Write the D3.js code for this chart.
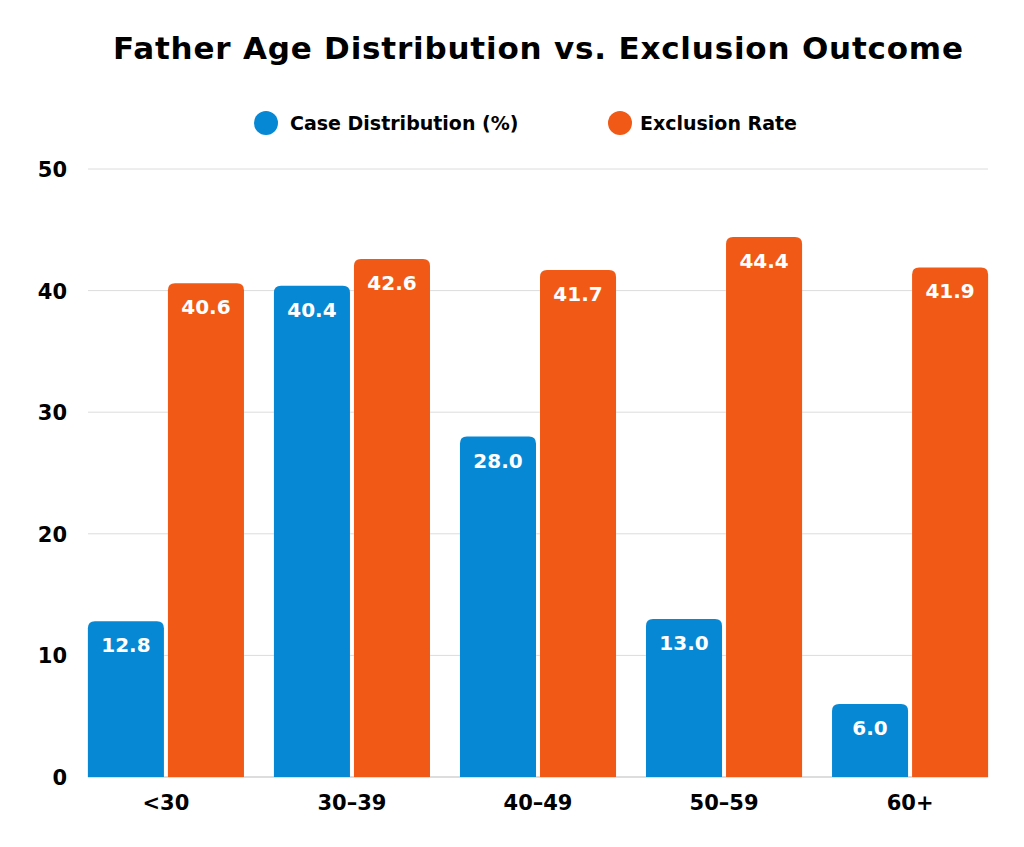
<!DOCTYPE html>
<html><head><meta charset="utf-8">
<script src="https://cdn.jsdelivr.net/npm/d3@7"></script>
<style>body{margin:0;background:#fff}text{font-family:"DejaVu Sans",sans-serif;font-weight:bold}</style>
</head><body><svg id="c" width="1024" height="847"></svg>
<script>
const categories = ["<30", "30–39", "40–49", "50–59", "60+"];
const seriesNames = ["Case Distribution (%)", "Exclusion Rate"];
const caseDist = [12.8, 40.4, 28.0, 13.0, 6.0];
const exclusion = [40.6, 42.6, 41.7, 44.4, 41.9];
const yTicks = [0, 10, 20, 30, 40, 50];
const colors = ["#0788d4", "#f05a16"];

const svg = d3.select("#c");
const y = d3.scaleLinear().domain([0, 50]).range([777, 169]);
const x0 = d3.scaleBand().domain(categories).range([73, 1003]).paddingInner(0.161).paddingOuter(0.08);
const x1 = d3.scaleBand().domain([0, 1]).range([0, x0.bandwidth()]).paddingInner(0.05);

svg.append("title-holder");
svg.append("text").attr("x", 538).attr("y", 59).attr("text-anchor", "middle")
  .style("font-size", "31px").attr("textLength", 850).text("Father Age Distribution vs. Exclusion Outcome");

// legend
const leg = [[266, 290], [620, 640]];
seriesNames.forEach((s, i) => {
  svg.append("circle").attr("cx", leg[i][0]).attr("cy", 123).attr("r", 12).attr("fill", colors[i]);
  svg.append("text").attr("x", leg[i][1]).attr("y", 130).style("font-size", "19px").text(s);
});

// grid
svg.append("g").selectAll("line").data(yTicks.slice(1)).join("line")
  .attr("x1", 88).attr("x2", 988).attr("y1", d => y(d)).attr("y2", d => y(d))
  .attr("stroke", "#dcdcdc");

svg.append("g").selectAll("text").data(yTicks).join("text")
  .attr("x", 67).attr("y", d => y(d) + 8).attr("text-anchor", "end")
  .style("font-size", "21px").text(d => d);

svg.append("line").attr("x1", 88).attr("x2", 988).attr("y1", 777).attr("y2", 777).attr("stroke", "#bbb");

const r = 7;
function barPath(x, w, top, bottom) {
  return `M${x},${bottom}V${top + r}Q${x},${top} ${x + r},${top}H${x + w - r}Q${x + w},${top} ${x + w},${top + r}V${bottom}Z`;
}
const rows = [];
categories.forEach((c, i) => {
  rows.push({ c, s: 0, v: caseDist[i] });
  rows.push({ c, s: 1, v: exclusion[i] });
});
const g = svg.append("g");
g.selectAll("path").data(rows).join("path")
  .attr("d", d => barPath(x0(d.c) + x1(d.s), x1.bandwidth(), y(d.v), y(0)))
  .attr("fill", d => colors[d.s]);
g.selectAll("text").data(rows).join("text")
  .attr("x", d => x0(d.c) + x1(d.s) + x1.bandwidth() / 2)
  .attr("y", d => y(d.v) + 31).attr("text-anchor", "middle")
  .attr("fill", "#fff").style("font-size", "20px").text(d => d.v.toFixed(1));

svg.append("g").selectAll("text").data(categories).join("text")
  .attr("x", d => x0(d) + x0.bandwidth() / 2).attr("y", 810).attr("text-anchor", "middle")
  .style("font-size", "21px").text(d => d);
</script></body></html>
